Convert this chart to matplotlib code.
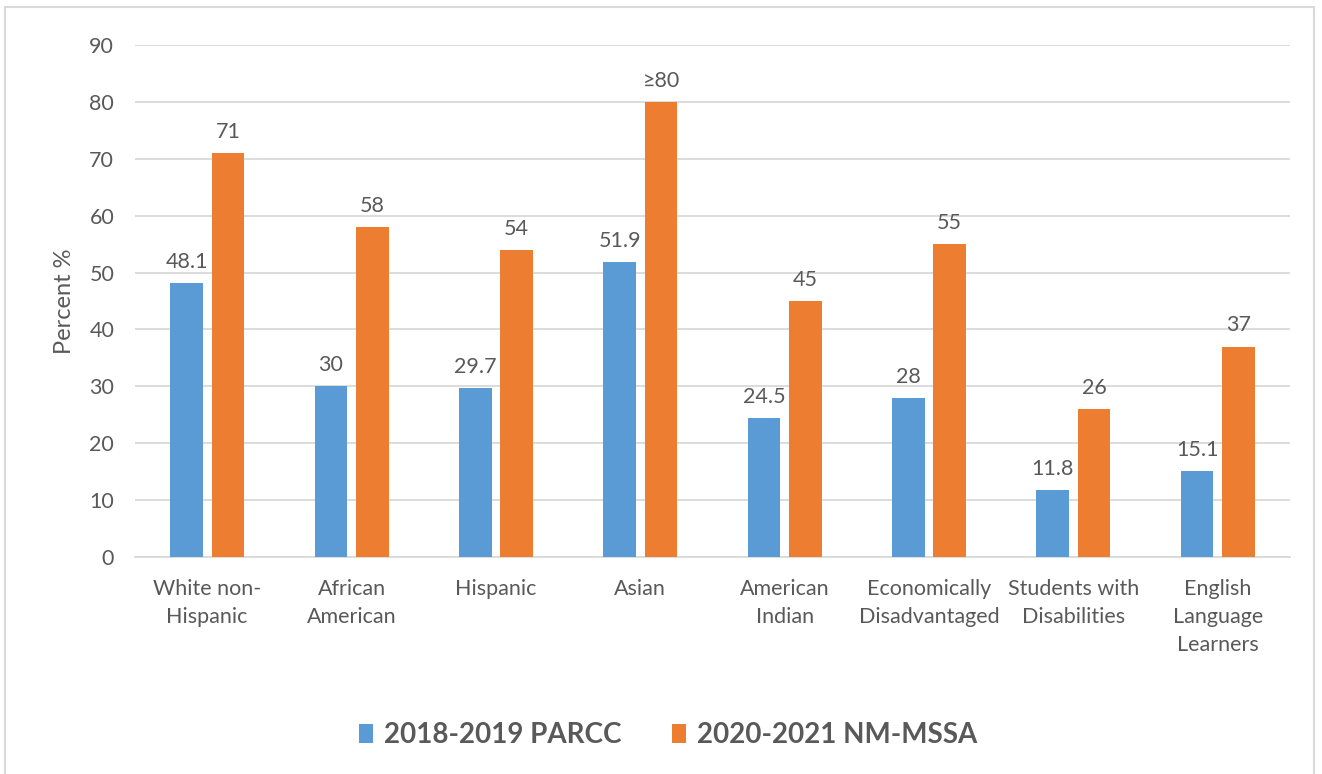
import numpy as np
import matplotlib.pyplot as plt
from matplotlib.patches import Rectangle

categories = ['White non-\nHispanic', 'African\nAmerican', 'Hispanic', 'Asian',
              'American\nIndian', 'Economically\nDisadvantaged',
              'Students with\nDisabilities', 'English\nLanguage\nLearners']
parcc = [48.1, 30, 29.7, 51.9, 24.5, 28, 11.8, 15.1]
mssa = [71, 58, 54, 80, 45, 55, 26, 37]
parcc_labels = ['48.1', '30', '29.7', '51.9', '24.5', '28', '11.8', '15.1']
mssa_labels = ['71', '58', '54', '\u226580', '45', '55', '26', '37']
series_names = ['2018-2019 PARCC', '2020-2021 NM-MSSA']

BLUE = '#5B9BD5'
ORANGE = '#ED7D31'
TEXT = '#595959'
GRID = '#D9D9D9'
FS = 15.5

plt.rcParams['font.family'] = ['Lato', 'DejaVu Sans']

fig = plt.figure(figsize=(13.22, 7.74), dpi=100)
ax = fig.add_axes([135 / 1322, 1 - 557 / 774, 1155 / 1322, 512 / 774])

x = np.arange(len(categories))
w = 0.226
off = 0.143
b1 = ax.bar(x - off, parcc, width=w, color=BLUE, label=series_names[0], zorder=3)
b2 = ax.bar(x + off, mssa, width=w, color=ORANGE, label=series_names[1], zorder=3)

for bars, labels in [(b1, parcc_labels), (b2, mssa_labels)]:
    for rect, lab in zip(bars, labels):
        ax.annotate(lab, (rect.get_x() + rect.get_width() / 2, rect.get_height()),
                    xytext=(0, 8), textcoords='offset points',
                    ha='center', va='bottom', fontsize=FS, color=TEXT)

ax.set_xlim(-0.5, len(categories) - 0.5)
ax.set_ylim(0, 90)
ax.set_yticks(np.arange(0, 91, 10))
ax.yaxis.grid(True, color=GRID, linewidth=1.3, zorder=0)
ax.set_axisbelow(True)
for s in ['top', 'right', 'left']:
    ax.spines[s].set_visible(False)
ax.spines['bottom'].set_color(GRID)
ax.spines['bottom'].set_linewidth(1.3)
ax.tick_params(axis='both', length=0, labelsize=FS, colors=TEXT)
ax.tick_params(axis='x', pad=16)
ax.tick_params(axis='y', pad=15)
ax.set_xticks(x)
ax.set_xticklabels(categories, linespacing=1.5)
ax.set_ylabel('Percent %', fontsize=17, color=TEXT, labelpad=10)

leg = fig.legend(handles=[b1, b2], loc='center', bbox_to_anchor=(668 / 1322, 1 - 735 / 774),
                 ncol=2, frameon=False, handlelength=0.5, handleheight=0.65,
                 handletextpad=0.4, columnspacing=1.8,
                 prop={'size': 20, 'weight': 'bold'})
for t in leg.get_texts():
    t.set_color(TEXT)

fig.patches.append(Rectangle((5 / 1322, -0.05), 1309 / 1322, 1.05 - 7 / 774,
                             transform=fig.transFigure, fill=False,
                             edgecolor=GRID, linewidth=1.5))

fig.savefig('out.png', dpi=100)
